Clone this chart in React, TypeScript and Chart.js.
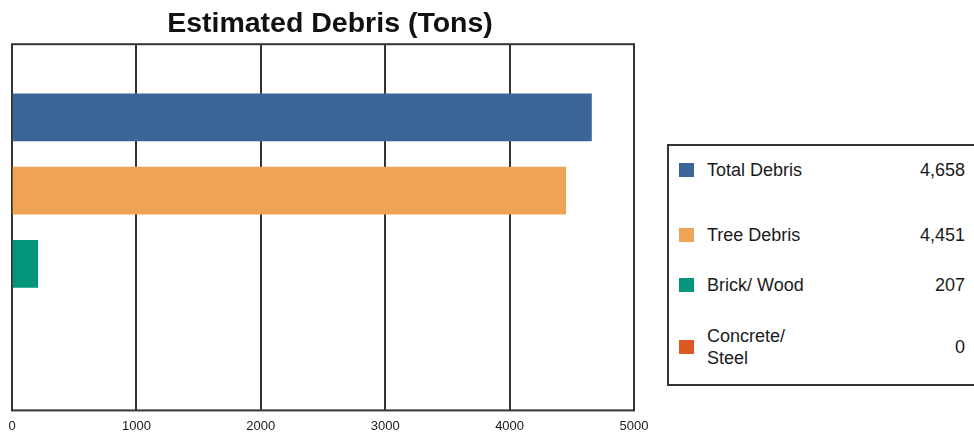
import React, { useEffect, useRef } from 'react';
import { Chart, registerables } from 'chart.js';

Chart.register(...registerables);

const chartTitle = 'Estimated Debris (Tons)';
const categories = ['Total Debris', 'Tree Debris', 'Brick/ Wood', 'Concrete/ Steel'];
const tons = [4658, 4451, 207, 0];
const barColors = ['#3a6596', '#efa354', '#04957a', '#dc5a22'];
const xTickValues = [0, 1000, 2000, 3000, 4000, 5000];

const FONT = '"Liberation Sans", Arial, Helvetica, sans-serif';

const framePlugin = {
  id: 'frame',
  beforeDatasetsDraw(chart: any) {
    const { ctx, chartArea } = chart;
    const { left, top, right, bottom } = chartArea;
    ctx.save();
    ctx.strokeStyle = '#333333';
    ctx.lineWidth = 2;
    ctx.strokeRect(left, top, right - left, bottom - top);
    ctx.restore();
  },
};

// vertical centres of the legend rows (layout only)
const rowCenters = [170, 235, 285, 347];

export default function App() {
  const canvasRef = useRef<HTMLCanvasElement | null>(null);

  useEffect(() => {
    document.body.style.margin = '0';
    document.body.style.background = '#ffffff';
    const canvas = canvasRef.current;
    if (!canvas) return;
    const labels = ['', ...categories, ''];
    const values = [null, ...tons, null];
    const colors = ['#000', ...barColors, '#000'];
    const chart = new Chart(canvas, {
      type: 'bar',
      data: {
        labels,
        datasets: [
          {
            data: values as any,
            backgroundColor: (ctx: any) => {
              const v = ctx.raw;
              return v ? colors[ctx.dataIndex] : 'rgba(0,0,0,0)';
            },
            borderWidth: 0,
            barThickness: 47,
          },
        ],
      },
      plugins: [framePlugin],
      options: {
        indexAxis: 'y',
        animation: false,
        responsive: false,
        maintainAspectRatio: false,
        layout: { padding: 0 },
        plugins: {
          legend: { display: false },
          tooltip: { enabled: false },
          title: {
            display: true,
            text: chartTitle,
            color: '#111111',
            font: { family: FONT, size: 28.5, weight: 'bold' },
            padding: { top: 7, bottom: 3 },
          },
        },
        scales: {
          x: {
            type: 'linear',
            min: xTickValues[0],
            max: xTickValues[xTickValues.length - 1],
            afterBuildTicks(scale: any) {
              scale.ticks = xTickValues.map((v) => ({ value: v }));
            },
            ticks: {
              color: '#1a1a1a',
              font: { family: FONT, size: 13 },
              padding: 8,
              autoSkip: false,
              maxRotation: 0,
              callback: (v: any) => String(v),
            },
            grid: { color: '#333333', lineWidth: 2, drawTicks: false },
            border: { display: false },
          },
          y: {
            type: 'category',
            offset: false,
            position: 'left',
            ticks: { display: false },
            grid: { display: false, drawTicks: false },
            border: { display: false },
            afterFit(scale: any) {
              scale.width = 12;
            },
          },
          yRight: {
            type: 'linear',
            position: 'right',
            ticks: { display: false },
            grid: { display: false, drawTicks: false },
            border: { display: false },
            afterFit(scale: any) {
              scale.width = 26;
            },
          },
        },
      },
    });
    return () => chart.destroy();
  }, []);

  return (
    <div style={{ position: 'relative', width: 974, height: 432, overflow: 'hidden', background: '#fff', fontFamily: FONT }}>
      <canvas ref={canvasRef} width={660} height={442} style={{ position: 'absolute', left: 0, top: 0, width: 660, height: 442, display: 'block' }} />
      <div
        style={{
          position: 'absolute',
          left: 667,
          top: 144,
          width: 320,
          height: 242,
          border: '2px solid #333',
          boxSizing: 'border-box',
        }}
      />
      {categories.map((name, i) => {
        const c = rowCenters[i];
        const lines = i === 3 ? 2 : 1;
        return (
          <React.Fragment key={name}>
            <div style={{ position: 'absolute', left: 679, top: c - 7, width: 15, height: 14, background: barColors[i] }} />
            <div
              style={{
                position: 'absolute',
                left: 707,
                top: c - (lines * 22) / 2,
                width: 110,
                fontSize: 18,
                lineHeight: '22px',
                color: '#1a1a1a',
              }}
            >
              {name}
            </div>
            <div
              style={{
                position: 'absolute',
                left: 865,
                top: c - 11,
                width: 100,
                textAlign: 'right',
                fontSize: 18,
                lineHeight: '22px',
                color: '#1a1a1a',
              }}
            >
              {tons[i].toLocaleString('en-US')}
            </div>
          </React.Fragment>
        );
      })}
    </div>
  );
}
